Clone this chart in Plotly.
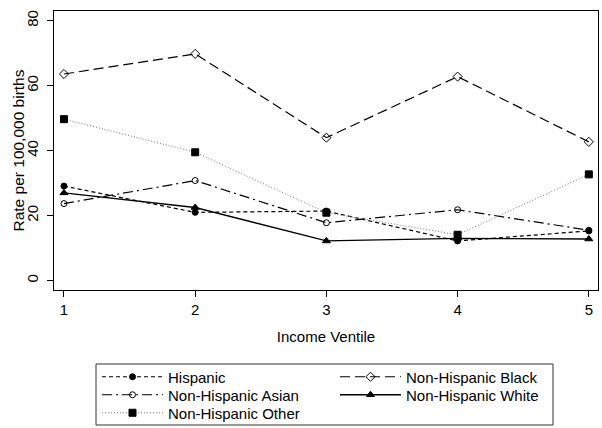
import plotly.graph_objects as go

ventile = [1, 2, 3, 4, 5]
hispanic = [29.1, 21.0, 21.4, 12.2, 15.3]
nh_black = [63.6, 69.8, 44.0, 62.8, 42.7]
nh_asian = [23.7, 30.8, 17.8, 21.8, 15.5]
nh_white = [27.0, 22.5, 12.2, 13.0, 12.8]
nh_other = [49.7, 39.5, 20.9, 14.1, 32.7]

y_ticks = [0, 20, 40, 60, 80]
x_ticks = [1, 2, 3, 4, 5]

FONT = "Liberation Sans, Arial, Helvetica, sans-serif"

fig = go.Figure()
# name, values, dash, symbol, line colour, marker colour, marker size, line width, legend row
series = [
    ("Hispanic", hispanic, "4px,3px", "circle", "black", "black", 6, 1.2, "legend"),
    ("Non-Hispanic Black", nh_black, "10px,5px", "diamond-open", "black", "black", 7, 1.2, "legend"),
    ("Non-Hispanic Asian", nh_asian, "10px,4px,2px,4px", "circle-open", "black", "black", 6, 1.2, "legend2"),
    ("Non-Hispanic White", nh_white, "solid", "triangle-up", "black", "black", 7, 1.3, "legend2"),
    ("Non-Hispanic Other", nh_other, "1px,2px", "square", "#777777", "black", 7, 1.0, "legend3"),
]
for name, vals, dash, sym, lc, mc, ms, lw, lg in series:
    fig.add_trace(go.Scatter(
        x=ventile, y=vals, name=name, mode="lines+markers", legend=lg,
        line=dict(color=lc, dash=dash, width=lw),
        marker=dict(symbol=sym, color=mc, size=ms, line=dict(color=mc, width=1)),
    ))

def row_legend(py):
    return dict(
        orientation="h", xref="container", yref="container",
        x=97 / 602, xanchor="left", y=1 - py / 428, yanchor="middle",
        entrywidth=162, entrywidthmode="pixels",
        borderwidth=0, bgcolor="rgba(0,0,0,0)",
        font=dict(family=FONT, size=15),
        tracegroupgap=0, itemwidth=61,
    )

fig.update_layout(
    width=602, height=428,
    margin=dict(l=54, r=4, t=11, b=138, autoexpand=False),
    paper_bgcolor="white", plot_bgcolor="white",
    font=dict(family=FONT, size=15, color="black"),
    showlegend=True,
    legend=row_legend(377),
    legend2=row_legend(395),
    legend3=row_legend(413),
    xaxis=dict(
        range=[0.924, 5.07], tickvals=x_ticks, ticktext=[str(v) for v in x_ticks],
        showgrid=False, zeroline=False, showline=True, linecolor="black", linewidth=1,
        mirror=True, ticks="outside", ticklen=6, tickcolor="black",
        ticklabelstandoff=0, automargin=False, tickfont=dict(size=15),
        title=dict(text="Income Ventile", standoff=14, font=dict(family=FONT, size=15)),
    ),
    yaxis=dict(
        range=[-2.9, 83], tickvals=y_ticks, ticktext=[str(v) for v in y_ticks],
        showgrid=False, zeroline=False, showline=True, linecolor="black", linewidth=1,
        mirror=True, ticks="outside", ticklen=6, tickcolor="black", tickangle=-90,
        ticklabelstandoff=3, automargin=False, tickfont=dict(size=15),
    ),
    annotations=[dict(
        text="Rate per 100,000 births", textangle=-90,
        xref="paper", yref="paper", x=(18 - 54) / 544, y=0.5,
        xanchor="center", yanchor="middle", showarrow=False,
        font=dict(family=FONT, size=15.5, color="black"),
    )],
    shapes=[dict(
        type="rect", xref="paper", yref="paper",
        x0=(96 - 54) / 544, x1=(553 - 54) / 544,
        y0=(290 - 425) / 279, y1=(290 - 364) / 279,
        line=dict(color="#333333", width=1), fillcolor="rgba(0,0,0,0)",
    )],
)

fig.write_html(
    "out.html",
    config={"displayModeBar": False},
    post_script="document.body.style.margin='0';document.body.style.padding='0';",
)
